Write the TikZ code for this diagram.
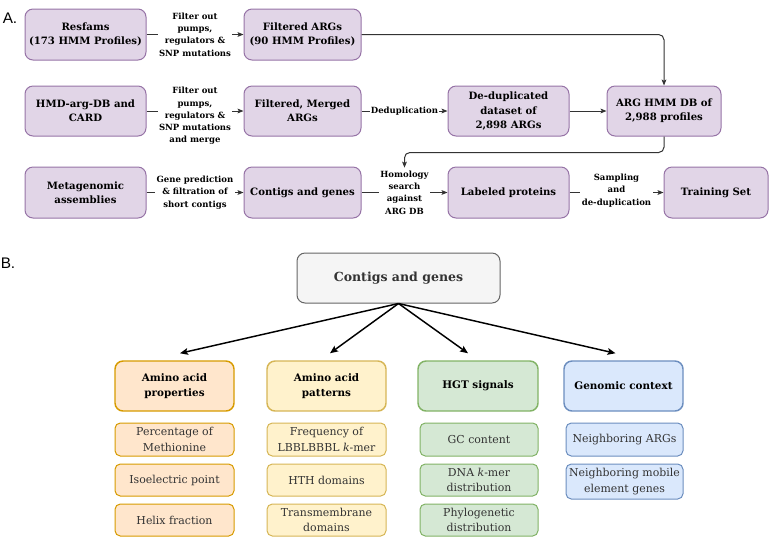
\documentclass[tikz,border=0pt]{standalone}
\usepackage{fontspec}
\setmainfont{DejaVu Serif}
\newfontfamily\lettfont{Liberation Sans}
\usetikzlibrary{arrows.meta}
\definecolor{purfill}{HTML}{E1D5E7}
\definecolor{purdraw}{HTML}{9673A6}
\definecolor{orfill}{HTML}{FFE6CC}
\definecolor{ordraw}{HTML}{D79B00}
\definecolor{yefill}{HTML}{FFF2CC}
\definecolor{yedraw}{HTML}{D6B656}
\definecolor{grfill}{HTML}{D5E8D4}
\definecolor{grdraw}{HTML}{82B366}
\definecolor{blfill}{HTML}{DAE8FC}
\definecolor{bldraw}{HTML}{6C8EBF}
\definecolor{gyfill}{HTML}{F5F5F5}
\definecolor{gydraw}{HTML}{666666}
\definecolor{txtgray}{HTML}{333333}
\definecolor{linegray}{HTML}{333333}
\newcommand\mybox[7]{\node[#2, minimum width={(#5-#3)*0.75pt}, minimum height={(#6-#4)*0.75pt}] (#1) at ({(#3+#5)/2},{(#4+#6)/2}) {#7};}
\tikzset{
  abox/.style={rectangle, rounded corners=6pt, draw=purdraw, fill=purfill, line width=0.75pt, inner sep=0pt, align=center, text=black, font=\bfseries\fontsize{7.6pt}{10.7pt}\selectfont},
  elbl/.style={fill=white, inner sep=1pt, align=center, text=black, font=\bfseries\fontsize{6.4pt}{9.2pt}\selectfont},
  arr/.style={draw=linegray, line width=0.75pt, -{Stealth[length=4.5pt,width=3.6pt,inset=1pt]}},
  barr/.style={draw=black, line width=1.1pt, -{Stealth[length=6pt,width=5pt,inset=1.2pt]}},
  cbox/.style={rectangle, rounded corners=6pt, line width=1.1pt, inner sep=0pt, align=center, text=black, font=\bfseries\fontsize{7.8pt}{11.8pt}\selectfont},
  sbox/.style={rectangle, rounded corners=4pt, line width=0.75pt, inner sep=0pt, align=center, text=txtgray, font=\fontsize{8.2pt}{11.5pt}\selectfont},
  letter/.style={inner sep=0pt, font=\lettfont\fontsize{11.5pt}{13pt}\selectfont},
}
\begin{document}
\begin{tikzpicture}[x=0.75pt, y=-0.75pt]
\useasboundingbox (0,0) rectangle (778,537);
% letters
\node[letter] (la) at (10,18) {A.};
\node[letter] (lb) at (8,263) {B.};
% Part A boxes
\mybox{resfams}{abox}{25}{9}{146}{60}{Resfams\\(173 HMM Profiles)}
\mybox{filt}{abox}{244}{9}{361}{60}{Filtered ARGs\\(90 HMM Profiles)}
\mybox{hmd}{abox}{25}{86}{146}{136}{HMD-arg-DB and\\CARD}
\mybox{merged}{abox}{244}{86}{361}{136}{Filtered, Merged\\ARGs}
\mybox{dedup}{abox}{448}{86}{569}{136}{De-duplicated\\dataset of\\2,898 ARGs}
\mybox{argdb}{abox}{607}{86}{721}{136}{ARG HMM DB of\\2,988 profiles}
\mybox{meta}{abox}{25}{167}{146}{218}{Metagenomic\\assemblies}
\mybox{contigs}{abox}{244}{167}{361}{218}{Contigs and genes}
\mybox{labeled}{abox}{448}{167}{569}{218}{Labeled proteins}
\mybox{train}{abox}{664}{167}{768}{218}{Training Set}
% Part A connectors
\draw[arr] (resfams) -- node[elbl] (l1) {Filter out\\pumps,\\regulators \&\\SNP mutations} (filt);
\draw[arr] (hmd) -- node[elbl, yshift=-3.75pt] (l2) {Filter out\\pumps,\\regulators \&\\SNP mutations\\and merge} (merged);
\draw[arr] (merged) -- node[elbl] (l3) {Deduplication} (dedup);
\draw[arr] (dedup) -- (argdb);
\draw[arr, rounded corners=4pt] (filt.east) -| (argdb.north);
\draw[arr] (meta) -- node[elbl] (l4) {Gene prediction\\\& filtration of\\short contigs} (contigs);
\draw[arr] (contigs) -- node[elbl] (hom) {Homology\\search\\against\\ARG DB} (labeled);
\draw[arr] (labeled) -- node[elbl, yshift=1.5pt] (l5) {Sampling\\and\\de-duplication} (train);
\draw[arr, rounded corners=4pt] (argdb.south) -- ++(0,16) -| ([yshift=1pt]hom.north);
% Part B
\mybox{cg}{rectangle, rounded corners=6pt, draw=gydraw, fill=gyfill, line width=0.75pt, inner sep=0pt, text=txtgray, font=\bfseries\fontsize{9.4pt}{12pt}\selectfont}{297}{253}{500}{303}{Contigs and genes}
\mybox{props}{cbox, draw=ordraw, fill=orfill}{115}{361}{234}{411}{Amino acid\\properties}
\mybox{patt}{cbox, draw=yedraw, fill=yefill}{267}{361}{386}{411}{Amino acid\\patterns}
\mybox{hgt}{cbox, draw=grdraw, fill=grfill}{418}{361}{538}{411}{HGT signals}
\mybox{gen}{cbox, draw=bldraw, fill=blfill}{564}{361}{683}{411}{Genomic context}
% sub boxes
\mybox{p1}{sbox, draw=ordraw, fill=orfill}{115}{423}{234}{456}{Percentage of\\Methionine}
\mybox{p2}{sbox, draw=ordraw, fill=orfill}{115}{464}{234}{496}{Isoelectric point}
\mybox{p3}{sbox, draw=ordraw, fill=orfill}{115}{504}{234}{536}{Helix fraction}
\mybox{q1}{sbox, draw=yedraw, fill=yefill}{267}{423}{386}{456}{Frequency of\\LBBLBBBL \textit{k}-mer}
\mybox{q2}{sbox, draw=yedraw, fill=yefill}{267}{464}{386}{496}{HTH domains}
\mybox{q3}{sbox, draw=yedraw, fill=yefill}{267}{504}{386}{536}{Transmembrane\\domains}
\mybox{h1}{sbox, draw=grdraw, fill=grfill}{420}{423}{538}{456}{GC content}
\mybox{h2}{sbox, draw=grdraw, fill=grfill}{420}{464}{538}{496}{DNA \textit{k}-mer\\distribution}
\mybox{h3}{sbox, draw=grdraw, fill=grfill}{420}{504}{538}{536}{Phylogenetic\\distribution}
\mybox{g1}{sbox, draw=bldraw, fill=blfill}{566}{423}{683}{456}{Neighboring ARGs}
\mybox{g2}{sbox, draw=bldraw, fill=blfill}{566}{464}{683}{499}{Neighboring mobile\\element genes}
% Part B arrows
\draw[barr] (cg.south) -- ([xshift=4.1pt,yshift=5.25pt]props.north);
\draw[barr] (cg.south) -- ([xshift=2.6pt,yshift=5.25pt]patt.north);
\draw[barr] (cg.south) -- ([xshift=-7.5pt,yshift=5.25pt]hgt.north);
\draw[barr] (cg.south) -- ([xshift=-6pt,yshift=5.25pt]gen.north);
\end{tikzpicture}
\end{document}
